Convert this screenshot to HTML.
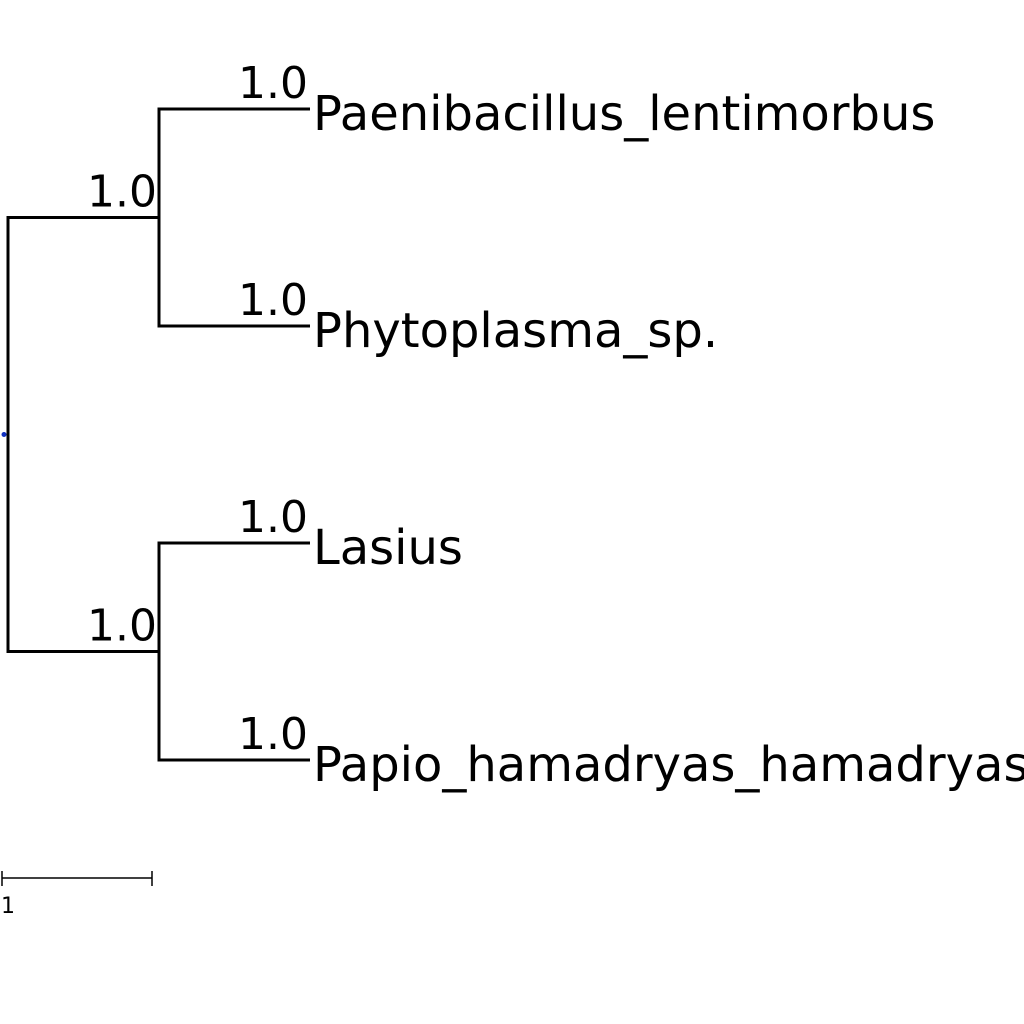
<!DOCTYPE html>
<html><head><meta charset="utf-8"><style>
html,body{margin:0;padding:0;background:#fff;}
svg{display:block;}
text{font-family:"DejaVu Sans","Liberation Sans",sans-serif;fill:#000;}
</style></head><body>
<svg width="1024" height="1024" viewBox="0 0 1024 1024">
<g id="tree"></g>
</svg>
<script>
const leafNames = ["Paenibacillus_lentimorbus","Phytoplasma_sp.","Lasius","Papio_hamadryas_hamadryas"];
const leafSupport = ["1.0","1.0","1.0","1.0"];
const cladeSupport = ["1.0","1.0"];
const branchLength = 1;
const scaleLabel = "1";
const NS="http://www.w3.org/2000/svg";
const g=document.getElementById('tree');
const x0=8, unit=151, yTop=109, yStep=217;
const xd=d=>x0+d*unit;
const yl=i=>yTop+i*yStep;
function line(x1,y1,x2,y2,name){const l=document.createElementNS(NS,'line');
l.setAttribute('x1',x1);l.setAttribute('y1',y1);l.setAttribute('x2',x2);l.setAttribute('y2',y2);
l.setAttribute('stroke','#000');l.setAttribute('stroke-width','3');


g.appendChild(l);return l;}
function text(x,y,s,size,anchor,name){const t=document.createElementNS(NS,'text');
t.setAttribute('x',x);t.setAttribute('y',y);t.setAttribute('font-size',size);t.setAttribute('text-anchor',anchor);
t.textContent=s;


g.appendChild(t);}
const cy=[(yl(0)+yl(1))/2,(yl(2)+yl(3))/2];
line(xd(0),cy[0]-1.5,xd(0),cy[1]+1.5,'root-vertical-branch');
for(let c=0;c<2;c++){
 line(xd(0)-1.5,cy[c],xd(branchLength),cy[c],'clade-branch');
 line(xd(branchLength),yl(2*c)-1.5,xd(branchLength),yl(2*c+1)+1.5,'clade-vertical-branch');
 text(xd(branchLength)-2,cy[c]-11,cladeSupport[c],44,'end','clade-support-label');
}
leafNames.forEach((n,i)=>{
 line(xd(branchLength)-1.5,yl(i),xd(2*branchLength),yl(i),'leaf-branch');
 text(xd(2*branchLength)-2,yl(i)-11,leafSupport[i],44,'end','leaf-support-label');
 text(xd(2*branchLength)+3,yl(i)+21,n,48,'start','leaf-name-label');
});
const dot=document.createElementNS(NS,'circle');
dot.setAttribute('cx',4);dot.setAttribute('cy',(cy[0]+cy[1])/2);dot.setAttribute('r',2.5);dot.setAttribute('fill','#1030c0');


g.appendChild(dot);
const sy=878;
const s1=line(2,sy,2+branchLength*150,sy,'scale-bar');s1.setAttribute('stroke-width','1.5');
const s2=line(2,sy-7,2,sy+8,'scale-bar-left-tick');s2.setAttribute('stroke-width','1.5');
const s3=line(152,sy-7,152,sy+8,'scale-bar-right-tick');s3.setAttribute('stroke-width','1.5');
text(1,913,scaleLabel,22,'start','scale-bar-label');
</script>
</body></html>
